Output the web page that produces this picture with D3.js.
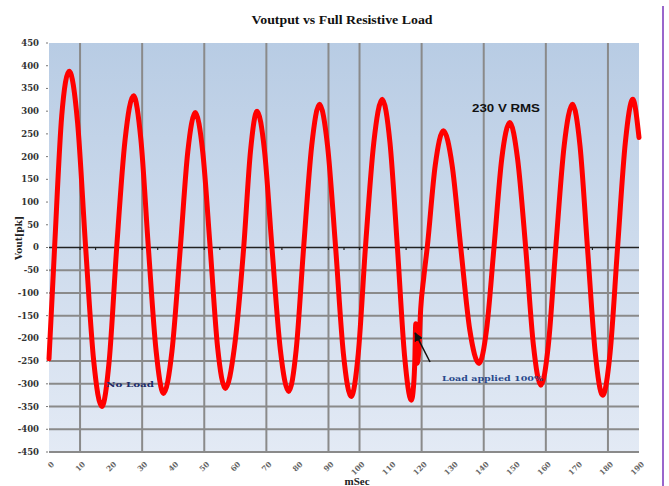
<!DOCTYPE html>
<html>
<head>
<meta charset="utf-8">
<script src="https://cdn.jsdelivr.net/npm/d3@7/dist/d3.min.js"></script>
<style>
  html, body { margin: 0; padding: 0; background: #ffffff; }
  svg { display: block; }
</style>
</head>
<body>
<svg id="chart" width="669" height="486"></svg>
<script>
// Output voltage samples: time (ms) and instantaneous voltage (V peak)
const timeMs = [0, 1.8, 4.1, 6.5, 9.2, 11.8, 14.4, 17.0, 19.4, 21.8, 24.5, 27.2, 29.6, 32.0, 34.5, 36.9,
  39.6, 42.3, 44.7, 47.1, 49.5, 51.9, 54.3, 56.8, 59.7, 62.7, 64.9, 67.0, 69.4, 71.8, 74.5, 77.2,
  79.6, 82.0, 84.6, 87.1, 89.7, 92.3, 94.8, 97.3, 99.6, 101.9, 104.6, 107.3, 109.8, 112.2, 114.5,
  116.7, 117.4, 117.8, 118.1, 118.5, 119.0, 119.7, 120.7, 121.8, 124.4, 127.0, 129.8, 132.6, 135.5,
  138.5, 140.9, 143.3, 145.8, 148.4, 150.9, 153.5, 156.0, 158.4, 160.8, 163.2, 165.9, 168.6, 171.0,
  173.4, 175.9, 178.3, 180.7, 183.1, 185.6, 188.0, 190.0];
const voutPk = [-245, 0, 290, 388, 275, 0, -250, -350, -248, 0, 237, 334, 237, 0, -228, -321,
  -228, 0, 211, 297, 211, 0, -220, -310, -220, 0, 213, 300, 213, 0, -225, -317,
  -225, 0, 224, 315, 224, 0, -233, -328, -233, 0, 231, 326, 231, 0, -238,
  -336, -305, -250, -168, -255, -235, -135, -65, 0, 182, 257, 182, 0, -181,
  -255, -181, 0, 195, 275, 195, 0, -215, -303, -215, 0, 224, 315, 224,
  0, -231, -325, -231, 0, 231, 326, 242];

// Axis ticks and grid positions
const xTicks = [0, 10, 20, 30, 40, 50, 60, 70, 80, 90, 100, 110, 120, 130, 140, 150, 160, 170, 180, 190];
const yTicks = [450, 400, 350, 300, 250, 200, 150, 100, 50, 0, -50, -100, -150, -200, -250, -300, -350, -400, -450];
const verticalGrid = [10, 30, 50, 70, 90, 100, 120, 140, 160, 180];
const horizontalGrid = [-50, -100, -150, -200, -250, -300, -350, -400, -450];
const zeroLineMarks = [10, 15, 30, 35, 50, 55, 70, 75, 90, 95, 100, 115, 120, 135, 140, 155, 160, 175, 180];

// Text
const chartTitle = "Voutput vs Full Resistive Load";
const xTitle = "mSec";
const yTitle = "Vout[pk]";
const rmsNote = "230 V RMS";
const noLoadNote = "No Load";
const loadNote = "Load applied 100%";
// where the load step happens (arrow tip and tail, in ms / V)
const loadArrowTip = [117.9, -188];
const loadArrowTail = [122.7, -252];

const svg = d3.select("#chart");
const plotLeft = 49, plotRight = 639, plotTop = 43, plotBottom = 452;

const x = d3.scaleLinear().domain([0, 190]).range([plotLeft, plotRight]);
const y = d3.scaleLinear().domain([-450, 450]).range([plotBottom, plotTop]);

// Plot background gradient
const defs = svg.append("defs");
const grad = defs.append("linearGradient")
  .attr("id", "plotBg").attr("x1", 0).attr("y1", 0).attr("x2", 0).attr("y2", 1);
grad.append("stop").attr("offset", "0%").attr("stop-color", "#b8cce4");
grad.append("stop").attr("offset", "100%").attr("stop-color", "#e3eaf5");
defs.append("marker")
  .attr("id", "arrowHead").attr("viewBox", "0 0 10 10")
  .attr("refX", 9).attr("refY", 5).attr("markerWidth", 6).attr("markerHeight", 6)
  .attr("orient", "auto")
  .append("path").attr("d", "M0,0 L10,5 L0,10 z").attr("fill", "#111");

svg.append("rect")
  .attr("x", plotLeft).attr("y", plotTop)
  .attr("width", plotRight - plotLeft).attr("height", plotBottom - plotTop)
  .attr("fill", "url(#plotBg)");

// Grid lines
svg.append("g").selectAll("line").data(horizontalGrid).join("line")
  .attr("x1", plotLeft).attr("x2", plotRight)
  .attr("y1", d => y(d)).attr("y2", d => y(d))
  .attr("stroke", "#8a8a8a").attr("stroke-width", 2);

svg.append("g").selectAll("line").data(verticalGrid).join("line")
  .attr("x1", d => x(d)).attr("x2", d => x(d))
  .attr("y1", plotTop).attr("y2", plotBottom)
  .attr("stroke", "#8a8a8a").attr("stroke-width", 2);

// Zero line with small marks
svg.append("line")
  .attr("x1", plotLeft).attr("x2", plotRight)
  .attr("y1", y(0)).attr("y2", y(0))
  .attr("stroke", "#222").attr("stroke-width", 1.5);
svg.append("g").selectAll("line").data(zeroLineMarks).join("line")
  .attr("x1", d => x(d)).attr("x2", d => x(d))
  .attr("y1", y(0)).attr("y2", y(0) + 2.5)
  .attr("stroke", "#222").attr("stroke-width", 1.2);

// Y axis: small ticks and labels
svg.append("g").selectAll("line").data(yTicks).join("line")
  .attr("x1", plotLeft - 3).attr("x2", plotLeft - 1)
  .attr("y1", d => y(d)).attr("y2", d => y(d))
  .attr("stroke", "#777").attr("stroke-width", 1);
svg.append("g").selectAll("text").data(yTicks).join("text")
  .attr("x", 39).attr("y", d => y(d)).attr("dy", "0.35em")
  .attr("text-anchor", "end")
  .attr("font-family", "'DejaVu Serif', serif").attr("font-weight", "bold")
  .attr("font-size", 8.5).attr("fill", "#333")
  .text(d => d);

// X axis labels, rotated
svg.append("g").selectAll("text").data(xTicks).join("text")
  .attr("transform", d => `translate(${x(d) + 2},${461}) rotate(-45)`)
  .attr("text-anchor", "end").attr("dy", "0.7em")
  .attr("font-family", "'DejaVu Serif', serif").attr("font-weight", "bold")
  .attr("font-size", 7.5).attr("fill", "#666")
  .text(d => d);

// Voltage waveform
const pts = timeMs.map((t, i) => [t, voutPk[i]]);
const line = d3.line().x(d => x(d[0])).y(d => y(d[1])).curve(d3.curveMonotoneX);
svg.append("path")
  .attr("d", line(pts))
  .attr("fill", "none").attr("stroke", "#ff0000")
  .attr("stroke-width", 5).attr("stroke-linejoin", "round").attr("stroke-linecap", "round");

// Load step arrow
svg.append("line")
  .attr("x1", x(loadArrowTail[0])).attr("y1", y(loadArrowTail[1]))
  .attr("x2", x(loadArrowTip[0])).attr("y2", y(loadArrowTip[1]))
  .attr("stroke", "#111").attr("stroke-width", 1.5)
  .attr("marker-end", "url(#arrowHead)");

// Annotations
svg.append("text").attr("x", 472).attr("y", 112)
  .attr("font-family", "'Liberation Sans', Arial, sans-serif").attr("font-weight", "bold")
  .attr("font-size", 10.5).attr("fill", "#111")
  .attr("textLength", 68).attr("lengthAdjust", "spacingAndGlyphs")
  .text(rmsNote);
svg.append("text").attr("x", 106).attr("y", 387)
  .attr("font-family", "'DejaVu Serif', serif").attr("font-weight", "bold")
  .attr("font-size", 8).attr("fill", "#1e2d6a")
  .attr("textLength", 48).attr("lengthAdjust", "spacingAndGlyphs")
  .text(noLoadNote);
svg.append("text").attr("x", 442).attr("y", 381)
  .attr("font-family", "'DejaVu Serif', serif").attr("font-weight", "bold")
  .attr("font-size", 8).attr("fill", "#2a4a8c")
  .attr("textLength", 101).attr("lengthAdjust", "spacingAndGlyphs")
  .text(loadNote);

// Titles
svg.append("text").attr("x", 342).attr("y", 24)
  .attr("text-anchor", "middle")
  .attr("font-family", "'Liberation Serif', 'Times New Roman', serif").attr("font-weight", "bold")
  .attr("font-size", 12).attr("fill", "#111")
  .attr("textLength", 181).attr("lengthAdjust", "spacingAndGlyphs")
  .text(chartTitle);
svg.append("text").attr("x", 357).attr("y", 485)
  .attr("text-anchor", "middle")
  .attr("font-family", "'Liberation Serif', 'Times New Roman', serif").attr("font-weight", "bold")
  .attr("font-size", 11).attr("fill", "#222")
  .text(xTitle);
svg.append("text")
  .attr("transform", "translate(22,238) rotate(-90)")
  .attr("text-anchor", "middle")
  .attr("font-family", "'DejaVu Serif', serif").attr("font-weight", "bold")
  .attr("font-size", 9).attr("fill", "#222")
  .text(yTitle);

// Page edge rule on the right
svg.append("line")
  .attr("x1", 663).attr("x2", 663).attr("y1", 6).attr("y2", 486)
  .attr("stroke", "#9966cc").attr("stroke-width", 2);
</script>
</body>
</html>
